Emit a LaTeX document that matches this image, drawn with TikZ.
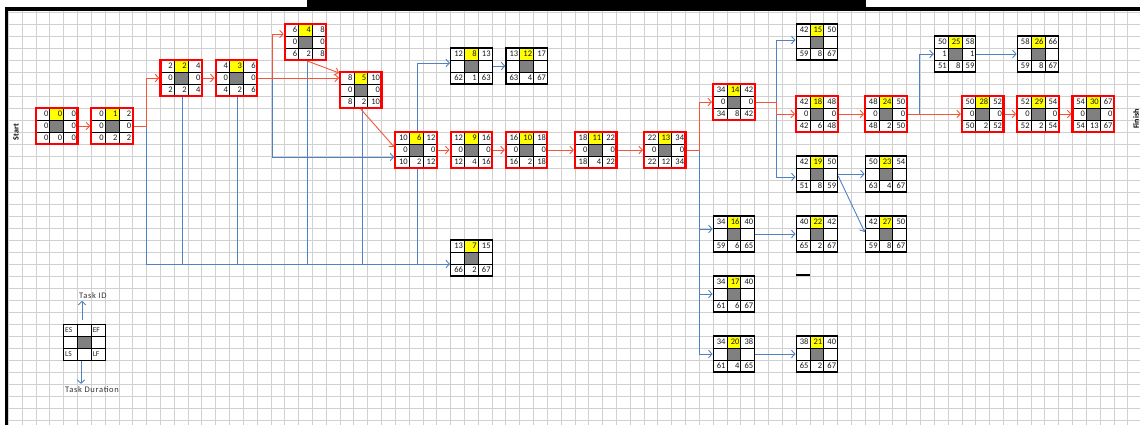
\documentclass[tikz,border=0pt]{standalone}
\usepackage{fontspec}
\setmainfont{Carlito}
\usetikzlibrary{arrows.meta,calc}
\definecolor{critred}{RGB}{255,0,0}
\definecolor{arrred}{RGB}{245,85,55}
\definecolor{arrblue}{RGB}{80,130,195}
\definecolor{idfill}{RGB}{255,255,0}
\definecolor{midfill}{RGB}{128,128,128}
\definecolor{gridgray}{RGB}{208,208,208}
\tikzset{
  gridline/.style={draw=gridgray, line width=0.9pt},
  cellline/.style={draw=black, line width=0.8pt},
  critbox/.style={draw=critred, line width=2.2pt, minimum width=41.46pt, minimum height=36pt, inner sep=0pt},
  freebox/.style={draw=black, line width=1.2pt, minimum width=41.46pt, minimum height=36pt, inner sep=0pt},
  num/.style={font=\fontsize{8.5}{9}\selectfont, text=black!90, inner sep=1.3pt, anchor=east},
  keytxt/.style={font=\fontsize{7.5}{8}\selectfont, text=black!85, inner sep=1.3pt, anchor=west},
  lbl/.style={font=\fontsize{8.5}{9}\selectfont\addfontfeatures{LetterSpace=8}, text=black!80, inner sep=2pt},
  endlbl/.style={font=\bfseries\fontsize{8}{9}\selectfont, rotate=90, inner sep=0pt},
  critarr/.style={draw=arrred, line width=0.9pt, -{Straight Barb[length=3.5pt,width=7.5pt]}},
  freearr/.style={draw=arrblue, line width=0.9pt, -{Straight Barb[length=3.5pt,width=7.5pt]}},
  freeline/.style={draw=arrblue, line width=0.9pt},
}

\begin{document}
\begin{tikzpicture}[x=1pt,y=-1pt]
  \useasboundingbox (0,0) rectangle (1140,425);
  \foreach \k in {0,...,81} { \draw[gridline] ({8.4+13.82*\k},11) -- ++(0,414); }
  \foreach \r in {0,...,34} { \draw[gridline] (7.5,{12+12*\r}) -- (1140,{12+12*\r}); }
  \fill[black] (4.5,7) rectangle (1140,11.2);
  \fill[black] (307,0) rectangle (866,10);
  \fill[black] (4.5,7) rectangle (7.5,425);
  \node[endlbl] (start) at (16,132) {Start};
  \node[endlbl] (finish) at (1136,119) {Finish};

  \foreach \cl/\rw/\st/\id/\es/\ef/\sk/\ls/\du/\lf in {
    2/8/critbox/0/0/0/0/0/0/0, 6/8/critbox/1/0/2/0/0/2/2,
    11/4/critbox/2/2/4/0/2/2/4, 15/4/critbox/3/4/6/0/4/2/6,
    20/1/critbox/4/6/8/0/6/2/8, 24/5/critbox/5/8/10/0/8/2/10,
    28/10/critbox/6/10/12/0/10/2/12, 32/19/freebox/7/13/15//66/2/67,
    32/3/freebox/8/12/13//62/1/63, 32/10/critbox/9/12/16/0/12/4/16,
    36/10/critbox/10/16/18/0/16/2/18, 41/10/critbox/11/18/22/0/18/4/22,
    36/3/freebox/12/13/17//63/4/67, 46/10/critbox/13/22/34/0/22/12/34,
    51/6/critbox/14/34/42/0/34/8/42, 57/1/freebox/15/42/50//59/8/67,
    51/17/freebox/16/34/40//59/6/65, 51/22/freebox/17/34/40//61/6/67,
    57/7/critbox/18/42/48/0/42/6/48, 57/12/freebox/19/42/50//51/8/59,
    51/27/freebox/20/34/38//61/4/65, 57/27/freebox/21/38/40//65/2/67,
    57/17/freebox/22/40/42//65/2/67, 62/12/freebox/23/50/54//63/4/67,
    62/7/critbox/24/48/50/0/48/2/50, 67/2/freebox/25/50/58/1/51/8/59,
    73/2/freebox/26/58/66//59/8/67, 62/17/freebox/27/42/50//59/8/67,
    69/7/critbox/28/50/52/0/50/2/52, 73/7/critbox/29/52/54/0/52/2/54,
    77/7/critbox/30/54/67/0/54/13/67} {
    \coordinate (o) at ({8.4+13.82*\cl},{12+12*\rw});
    \fill[white] (o) rectangle ++(41.46,36);
    \fill[idfill] ($(o)+(13.82,0)$) rectangle ++(13.82,12);
    \fill[midfill] ($(o)+(13.82,12)$) rectangle ++(13.82,12);
    \foreach \i in {1,2} {
      \draw[cellline] ($(o)+(13.82*\i,0)$) -- ++(0,36);
      \draw[cellline] ($(o)+(0,12*\i)$) -- ++(41.46,0);
    }
    \node[num] at ($(o)+(13.82,6)$) {\es};
    \node[num] at ($(o)+(27.64,6)$) {\id};
    \node[num] at ($(o)+(41.46,6)$) {\ef};
    \node[num] at ($(o)+(13.82,18)$) {\sk};
    \node[num] at ($(o)+(41.46,18)$) {\sk};
    \node[num] at ($(o)+(13.82,30)$) {\ls};
    \node[num] at ($(o)+(27.64,30)$) {\du};
    \node[num] at ($(o)+(41.46,30)$) {\lf};
    \node[\st] (t\id) at ($(o)+(20.73,18)$) {};
  }

  \coordinate (lo) at ({8.4+13.82*4},{12+12*26});
  \fill[white] (lo) rectangle ++(41.46,36);
  \fill[midfill] ($(lo)+(13.82,12)$) rectangle ++(13.82,12);
  \foreach \i in {1,2} {
    \draw[cellline] ($(lo)+(13.82*\i,0)$) -- ++(0,36);
    \draw[cellline] ($(lo)+(0,12*\i)$) -- ++(41.46,0);
  }
  \node[keytxt] at ($(lo)+(0,6)$) {ES};
  \node[keytxt] at ($(lo)+(27.64,6)$) {EF};
  \node[keytxt] at ($(lo)+(0,30)$) {LS};
  \node[keytxt] at ($(lo)+(27.64,30)$) {LF};
  \node[freebox, line width=1pt] (key) at ($(lo)+(20.73,18)$) {};
  \node[lbl, anchor=base west] (tid) at (77,298.5) {Task ID};
  \node[lbl, anchor=base west] (tdur) at (63,392) {Task Duration};
  \coordinate (up) at (82,320);
  \coordinate (dn) at (81,361);
  \draw[freearr] (up) -- (up |- tid.south);
  \draw[freearr] (dn) -- (dn |- tdur.north);

  \coordinate (j1) at ($(t1.east)+(12.4,0)$);
  \coordinate (j3) at ($(t3.east)+(14,0)$);
  \coordinate (j13) at ($(t13.east)+(13,0)$);
  \coordinate (j14) at ($(t14.east)+(21,0)$);
  \coordinate (j24) at ($(t24.east)+(12,0)$);
  \coordinate (bus) at ([yshift=-6pt]t7.west);
  \coordinate (a16) at ([yshift=5pt]t16.west);

  \draw[freearr] (j1) |- (bus);
  \foreach \n in {2,...,6} { \draw[freeline] ([xshift=1.5pt]t\n.south) -- ([xshift=1.5pt]t\n.south |- bus); }
  \draw[freearr] (j3) |- ([yshift=-7pt]t6.west);
  \draw[freearr] ([xshift=1.5pt]t6.north) |- ([yshift=3pt]t8.west);
  \draw[freearr] (t8) -- (t12);
  \draw[freearr] (j13) |- (t20.west);
  \draw[freearr] (j13 |- a16) -- (a16);
  \draw[freearr] (j13 |- t17.west) -- (t17.west);
  \draw[freearr] (j14) |- ([yshift=2pt]t15.west);
  \draw[freearr] (j14) |- ([yshift=-3pt]t19.west);
  \draw[freearr] (t19) -- (t23);
  \draw[freearr] ([yshift=-2pt]t19.east) -- ([yshift=2pt]t27.west);
  \draw[freearr] (t16) -- (t22);
  \draw[freearr] (t20) -- (t21);
  \draw[freearr] (j24) |- (t25.west);
  \draw[freearr] (t25) -- (t26);
  \draw[line width=1.2pt] ({8.4+13.82*57},275) -- ++(13.82,0);

  \draw[critarr] (t0) -- (t1);
  \draw[critarr] (t1.east) -- (j1) |- (t2.west);
  \draw[critarr] (t2) -- (t3);
  \draw[critarr] (t3.east) -- (j3) |- ([yshift=8pt]t4.west);
  \draw[critarr] (t3.east) -- (t3.east -| t5.west);
  \draw[critarr] ([xshift=2pt]t4.south) -- ([yshift=-2pt]t5.north west);
  \draw[critarr] (t5.south) -- ([yshift=3pt]t6.west);
  \foreach \a/\b in {6/9,9/10,10/11,11/13,18/24,24/28,28/29,29/30} { \draw[critarr] (t\a) -- (t\b); }
  \draw[critarr] (t13.east) -- (j13) |- (t14.west);
  \draw[critarr] (t14.east) -- (j14) |- (t18.west);
\end{tikzpicture}
\end{document}
